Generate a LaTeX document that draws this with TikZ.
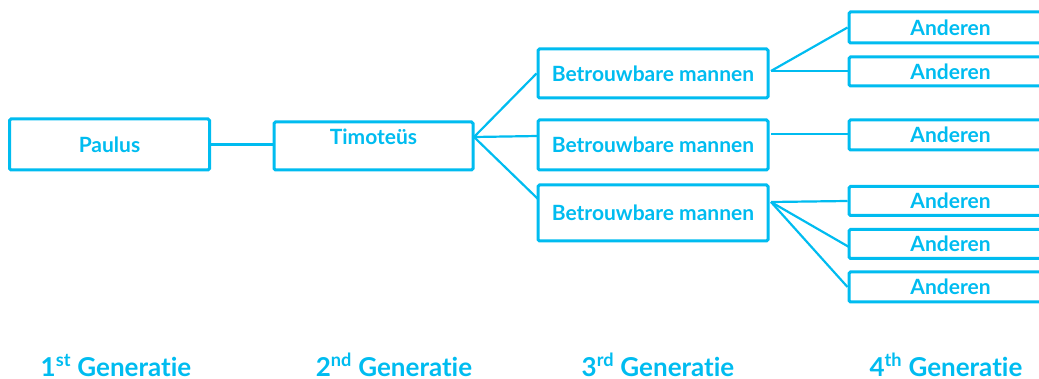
\documentclass[tikz,border=0pt]{standalone}
\usepackage{fontspec}
\setmainfont{Lato}[Ligatures=NoCommon]
\definecolor{cy}{RGB}{0,188,240}
\begin{document}
\begin{tikzpicture}[x=1pt,y=-1pt,
  box/.style={draw=cy,line width=3pt,rounded corners=1.5pt,inner sep=0pt,
    text=cy,font=\fontsize{21}{24}\selectfont\bfseries},
  link/.style={draw=cy,line width=2.2pt},
  gen/.style={text=cy,anchor=base,inner sep=0pt,font=\fontsize{26}{30}\selectfont\bfseries}]
\clip (0,0) rectangle (1039,379);
% generation 1 and 2
\node[box,minimum width=200pt,minimum height=51pt] (paulus) at (109.5,144.5) {Paulus};
\node[box,minimum width=199pt,minimum height=48pt] (timo) at (373.5,146) {};
\node[text=cy,font=\fontsize{21}{24}\selectfont\bfseries,inner sep=0pt] (timotxt) at (373.5,137) {Timoteüs};
% generation 3
\node[box,minimum width=230pt,minimum height=49pt] (b1) at (653,73.5) {Betrouwbare mannen};
\node[box,minimum width=230pt,minimum height=50pt] (b2) at (653,145) {Betrouwbare mannen};
\node[box,minimum width=230pt,minimum height=56pt] (b3) at (653,213) {Betrouwbare mannen};
% generation 4
\node[box,minimum width=203pt,minimum height=31pt] (a1) at (950.5,27.5) {Anderen};
\node[box,minimum width=203pt,minimum height=29pt] (a2) at (950.5,71.5) {Anderen};
\node[box,minimum width=203pt,minimum height=30pt] (a3) at (950.5,135) {Anderen};
\node[box,minimum width=203pt,minimum height=29pt] (a4) at (950.5,201) {Anderen};
\node[box,minimum width=203pt,minimum height=29pt] (a5) at (950.5,244) {Anderen};
\node[box,minimum width=203pt,minimum height=30pt] (a6) at (950.5,287) {Anderen};
% fan points
\coordinate (tf) at (474,137);
\coordinate (t2) at (538,136);
\coordinate (t3) at (538,199);
\coordinate (f1) at (771,71);
\coordinate (f2) at (771,134);
\coordinate (f3) at (771,202);
\coordinate (e5) at (849,247);
% connectors
\draw[link] (paulus.east) -- (paulus.east -| timo.west);
\draw[link] (tf) -- (b1.west);
\draw[link] (tf) -- (t2);
\draw[link] (tf) -- (t3);
\draw[link] (f1) -- (a1.west);
\draw[link] (f1) -- (f1 -| a2.west);
\draw[link] (f2) -- (f2 -| a3.west);
\draw[link] (f3) -- (a4.west);
\draw[link] (f3) -- (e5);
\draw[link] (f3) -- (a6.west);
% generation labels
\node[gen] (g1) at (116,376) {1\textsuperscript{st} Generatie};
\node[gen] (g2) at (394,376) {2\textsuperscript{nd} Generatie};
\node[gen] (g3) at (658,376) {3\textsuperscript{rd} Generatie};
\node[gen] (g4) at (946,376) {4\textsuperscript{th} Generatie};
\end{tikzpicture}
\end{document}
